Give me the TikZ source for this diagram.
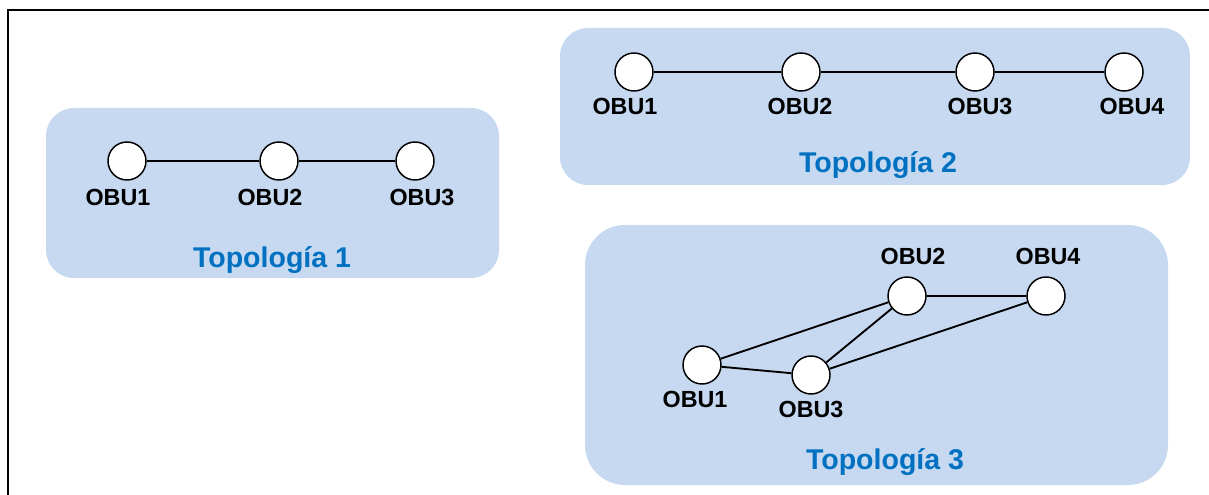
\documentclass[tikz,border=0pt]{standalone}
\usepackage{fontspec}
\setmainfont{Liberation Sans}
\definecolor{boxblue}{RGB}{198,217,240}
\definecolor{titleblue}{RGB}{0,112,192}

\begin{document}
\begin{tikzpicture}[x=0.75pt,y=-0.75pt,
  obu/.style={circle,draw,fill=white,line width=1.1pt,minimum size=28.5pt,inner sep=0pt},
  obulabel/.style={font=\fontsize{17.5}{20}\selectfont\bfseries,inner sep=0pt},
  topo/.style={font=\fontsize{21.4}{24}\selectfont\bfseries,text=titleblue,inner sep=0pt},
  link/.style={line width=1.1pt},
  panel/.style={fill=boxblue}]
  \useasboundingbox (0,0) rectangle (1209,495);
  \clip (0,0) rectangle (1209,495);
  % Draw frame
  \draw [line width=2.2pt] (8,520) |- (1230,10);
  % Draw panels
  \fill [panel,rounded corners=21pt] (46,108) rectangle (499,278);
  \fill [panel,rounded corners=21pt] (560,28) rectangle (1190,185);
  \fill [panel,rounded corners=30pt] (585,225) rectangle (1168,485);

  % Topologia 1
  \node [obu] (a1) at (127,161) {};
  \node [obu] (a2) at (279,161) {};
  \node [obu] (a3) at (415,161) {};
  \draw [link] (a1) -- (a2) -- (a3);
  \node [obulabel] (la1) at (118,197) {OBU1};
  \node [obulabel] (la2) at (270,197) {OBU2};
  \node [obulabel] (la3) at (422,197) {OBU3};
  \node [topo] (ta) at (272,260) {Topología 1};

  % Topologia 2
  \node [obu] (b1) at (634,72) {};
  \node [obu] (b2) at (801,72) {};
  \node [obu] (b3) at (975,72) {};
  \node [obu] (b4) at (1124,72) {};
  \draw [link] (b1) -- (b2) -- (b3) -- (b4);
  \node [obulabel] (lb1) at (625,106) {OBU1};
  \node [obulabel] (lb2) at (800,106) {OBU2};
  \node [obulabel] (lb3) at (980,106) {OBU3};
  \node [obulabel] (lb4) at (1132,106) {OBU4};
  \node [topo] (tb) at (878,165) {Topología 2};

  % Topologia 3
  \node [obu] (c1) at (702,365) {};
  \node [obu] (c2) at (907,296) {};
  \node [obu] (c3) at (811,375) {};
  \node [obu] (c4) at (1046,296) {};
  \draw [link,line width=1.4pt] (c1) -- (c2) -- (c4) -- (c3) -- (c1);
  \draw [link,line width=1.4pt] (c3) -- (c2);
  \node [obulabel] (lc1) at (695,399) {OBU1};
  \node [obulabel] (lc2) at (913,256) {OBU2};
  \node [obulabel] (lc3) at (811,409) {OBU3};
  \node [obulabel] (lc4) at (1048,256) {OBU4};
  \node [topo] (tc) at (885,462) {Topología 3};
\end{tikzpicture}
\end{document}
